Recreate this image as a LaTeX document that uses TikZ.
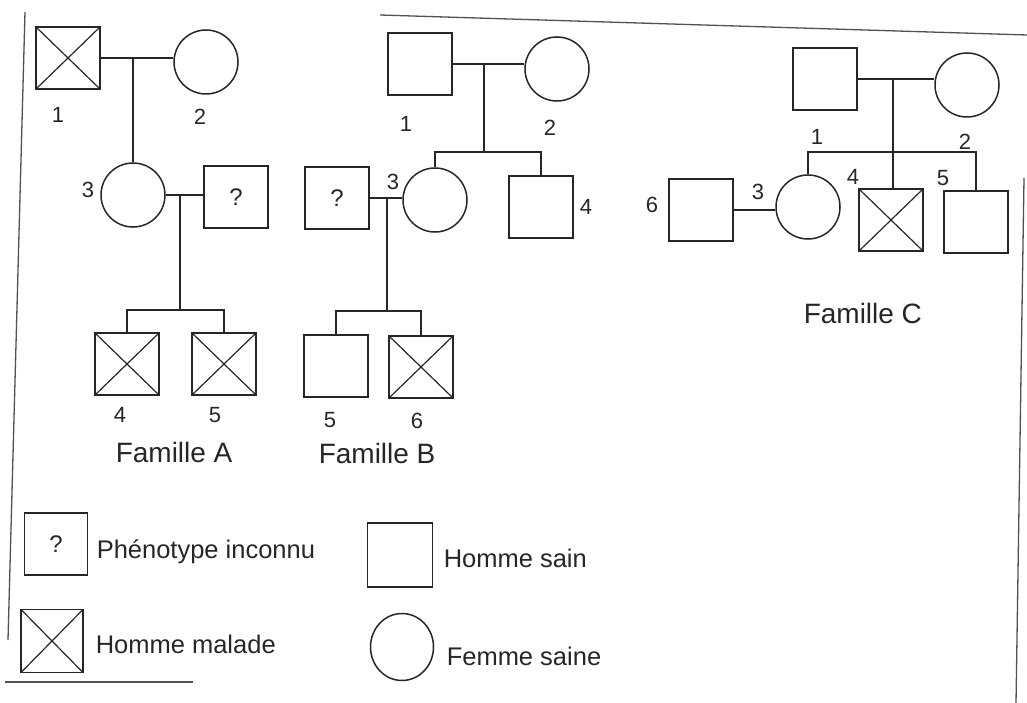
\documentclass[tikz,border=0pt]{standalone}
\usepackage{fontspec}
\setmainfont{Liberation Sans}
\usetikzlibrary{shapes.geometric}
\definecolor{ink}{HTML}{262626}
\begin{document}
\begin{tikzpicture}[x=1pt,y=-1pt, line width=1.5pt, draw=ink, text=ink,
  sq/.style={draw, rectangle, minimum width=64pt, minimum height=62pt, inner sep=0pt, font=\fontsize{24}{24}\selectfont},
  aff/.style={sq, path picture={\draw[line width=1.2pt] (path picture bounding box.north west)--(path picture bounding box.south east) (path picture bounding box.north east)--(path picture bounding box.south west);}},
  fem/.style={draw, circle, minimum size=64pt, inner sep=0pt},
  num/.style={font=\fontsize{22}{22}\selectfont},
  fam/.style={font=\fontsize{28}{28}\selectfont, anchor=base west, inner sep=0pt},
  leg/.style={font=\fontsize{25.5}{25.5}\selectfont, anchor=base west, inner sep=0pt},
  frame/.style={line width=1.3pt, draw=ink!80}]
\useasboundingbox (0,0) rectangle (1027,703);
% frame
\coordinate (f1) at (25,12); \coordinate (f2) at (8,640);
\coordinate (f3) at (380,15); \coordinate (f4) at (1027,35);
\coordinate (f5) at (1024,178); \coordinate (f6) at (1016,703);
\coordinate (f7) at (5,682); \coordinate (f8) at (193,682);
\draw[frame] (f1) -- (f2);
\draw[frame] (f3) -- (f4);
\draw[frame] (f5) -- (f6);
\draw[frame] (f7) -- (f8);
% Famille A
\node[aff] (A1) at (68,58) {};
\node[fem] (A2) at (206,62) {};
\node[num] (lA1) at (58,115) {1};
\node[num] (lA2) at (200,117) {2};
\draw (A1.east) -- (A1.east -| A2.west);
\coordinate (mA) at (133,58);
\node[fem] (A3) at (133,195) {};
\draw (mA) -- (A3.north);
\node[num] (lA3) at (88,190) {3};
\node[sq] (A0) at (236,197) {?};
\draw (A3.east) -- (A3.east -| A0.west);
\coordinate (mA2) at (180,195);
\coordinate (sA) at (180,310);
\draw (mA2) -- (sA);
\node[aff] (A4) at (127,364) {};
\node[aff] (A5) at (224,364) {};
\draw (A4.north) -- (A4.north |- sA) -- (A5.north |- sA) -- (A5.north);
\node[num] (lA4) at (120,415) {4};
\node[num] (lA5) at (215,415) {5};
\node[fam] (FA) at (115,462) {Famille A};
% Famille B
\node[sq] (B1) at (420,64) {};
\node[fem] (B2) at (557,69) {};
\draw (B1.east) -- (B1.east -| B2.west);
\coordinate (mB) at (484,64);
\coordinate (sB) at (484,152);
\draw (mB) -- (sB);
\node[fem] (B3) at (435,200) {};
\node[sq] (B4) at (541,207) {};
\draw (B3.north) -- (B3.north |- sB) -- (B4.north |- sB) -- (B4.north);
\node[num] (lB1) at (406,124) {1};
\node[num] (lB2) at (550,128) {2};
\node[num] (lB4) at (586,207) {4};
\node[num] (lB3) at (393,182) {3};
\node[sq] (B0) at (337,198) {?};
\draw (B0.east) -- (B0.east -| B3.west);
\coordinate (mB2) at (387,198);
\coordinate (sB2) at (387,311);
\draw (mB2) -- (sB2);
\node[sq] (B5) at (336,366) {};
\node[aff] (B6) at (421,367) {};
\draw (B5.north) -- (B5.north |- sB2) -- (B6.north |- sB2) -- (B6.north);
\node[num] (lB5) at (330,420) {5};
\node[num] (lB6) at (417,421) {6};
\node[fam] (FB) at (318,463) {Famille B};
% Famille C
\node[sq] (C1) at (825,79) {};
\node[fem] (C2) at (967,85) {};
\draw (C1.east) -- (C1.east -| C2.west);
\coordinate (mC) at (893,79);
\node[aff] (C4) at (891,220) {};
\draw (mC) -- (mC |- C4.north);
\coordinate (sC) at (893,152);
\node[fem] (C3) at (808,207) {};
\node[sq] (C5) at (976,222) {};
\draw (C3.north) -- (C3.north |- sC) -- (C5.north |- sC) -- (C5.north);
\node[sq] (C6) at (701,210) {};
\draw (C6.east) -- (C6.east -| C3.west);
\node[num] (lC1) at (817,137) {1};
\node[num] (lC2) at (965,142) {2};
\node[num] (lC3) at (758,192) {3};
\node[num] (lC6) at (652,205) {6};
\node[num] (lC4) at (853,177) {4};
\node[num] (lC5) at (943,178) {5};
\node[fam] (FC) at (803,323) {Famille C};
% Légende
\node[sq, minimum width=63pt, minimum height=62pt] (L1) at (56,544) {?};
\node[leg] (T1) at (96,558) {Phénotype inconnu};
\node[aff, minimum width=62pt, minimum height=63pt] (L2) at (52,641) {};
\node[leg] (T2) at (95,653) {Homme malade};
\node[sq, minimum width=65pt, minimum height=64pt] (L3) at (400,555) {};
\node[leg] (T3) at (443,567) {Homme sain};
\node[draw, ellipse, minimum width=63pt, minimum height=67pt, inner sep=0pt] (L4) at (402,647) {};
\node[leg] (T4) at (446,665) {Femme saine};
\end{tikzpicture}
\end{document}
